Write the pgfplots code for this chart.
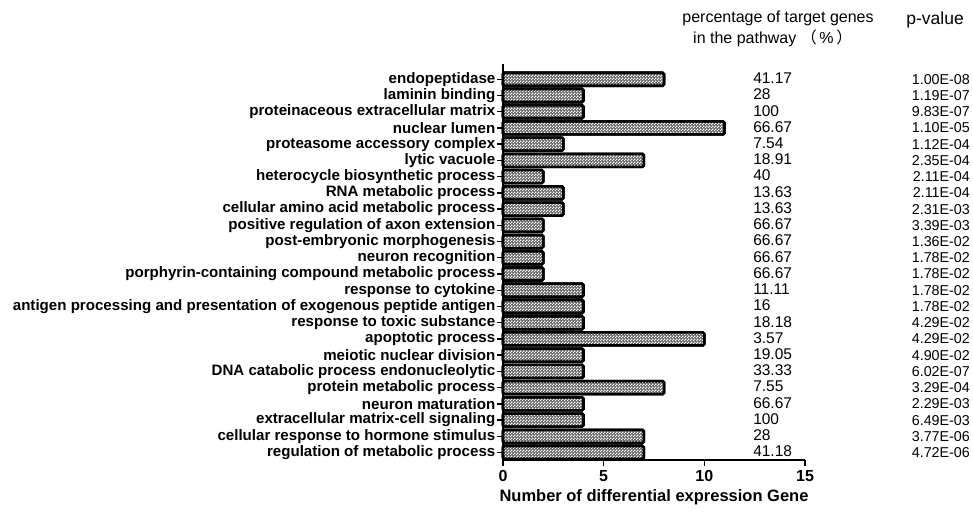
\documentclass[border=0pt]{standalone}
\usepackage{fontspec}
\setmainfont{Liberation Sans}
\newfontfamily\cjk{Noto Sans CJK SC}
\usepackage{pgfplots}
\usepackage{pgfplotstable}
\pgfplotsset{compat=1.18}
\usetikzlibrary{patterns}

\pgfdeclarepatternformonly{checker}{\pgfpointorigin}{\pgfpoint{3pt}{3pt}}{\pgfpoint{3pt}{3pt}}{%
  \pgfpathrectangle{\pgfpointorigin}{\pgfpoint{1.5pt}{1.5pt}}%
  \pgfpathrectangle{\pgfpoint{1.5pt}{1.5pt}}{\pgfpoint{1.5pt}{1.5pt}}%
  \pgfusepath{fill}%
}

\pgfplotstableread{
idx genes pct pval
1 8 41.17 1.00E-08
2 4 28 1.19E-07
3 4 100 9.83E-07
4 11 66.67 1.10E-05
5 3 7.54 1.12E-04
6 7 18.91 2.35E-04
7 2 40 2.11E-04
8 3 13.63 2.11E-04
9 3 13.63 2.31E-03
10 2 66.67 3.39E-03
11 2 66.67 1.36E-02
12 2 66.67 1.78E-02
13 2 66.67 1.78E-02
14 4 11.11 1.78E-02
15 4 16 1.78E-02
16 4 18.18 4.29E-02
17 10 3.57 4.29E-02
18 4 19.05 4.90E-02
19 4 33.33 6.02E-07
20 8 7.55 3.29E-04
21 4 66.67 2.29E-03
22 4 100 6.49E-03
23 7 28 3.77E-06
24 7 41.18 4.72E-06
}\datatable

\begin{document}
\begin{tikzpicture}
\path[use as bounding box] (0,0) rectangle (973pt,511pt);
\begin{axis}[
  at={(503pt,51pt)}, anchor=south west,
  scale only axis, width=302pt, height=396pt,
  clip=false,
  xmin=0, xmax=15,
  ymin=0.06, ymax=24.46,
  y dir=reverse,
  axis x line*=bottom, axis y line*=left,
  axis line style={line width=1.7pt, black},
  xtick={0,5,10,15},
  ytick={1,...,24},
  yticklabels={endopeptidase,laminin binding,proteinaceous extracellular matrix,nuclear lumen,proteasome accessory complex,lytic vacuole,heterocycle biosynthetic process,RNA metabolic process,cellular amino acid metabolic process,positive regulation of axon extension,post-embryonic morphogenesis,neuron recognition,porphyrin-containing compound metabolic process,response to cytokine,antigen processing and presentation of exogenous peptide antigen,response to toxic substance,apoptotic process,meiotic nuclear division,DNA catabolic process endonucleolytic,protein metabolic process,neuron maturation,extracellular matrix-cell signaling,cellular response to hormone stimulus,regulation of metabolic process},
  tick align=outside,
  major tick length=6pt,
  every tick/.style={black, line width=1.4pt},
  /pgf/number format/assume math mode=true,
  yticklabel style={font=\bfseries\fontsize{15.1}{15.1}\selectfont, inner sep=1.5pt},
  xticklabel style={font=\bfseries\fontsize{16}{16}\selectfont, yshift=-1pt},
  xlabel={Number of differential expression Gene},
  xlabel style={font=\bfseries\fontsize{16.5}{16.5}\selectfont, yshift=-1pt},
]
\addplot[xbar, bar width=13pt, draw=black, line width=2.6pt, rounded corners=1.5pt,
  fill=black!60, postaction={pattern=checker, pattern color=white}]
  table[x=genes, y=idx] {\datatable};
\addplot[draw=none, mark=none, nodes near coords={\pgfplotspointmeta},
  point meta=explicit symbolic,
  every node near coord/.style={anchor=west, inner sep=0pt, yshift=1pt, font=\fontsize{15.5}{15.5}\selectfont}]
  table[x expr=12.42, y=idx, meta=pct] {\datatable};
\addplot[draw=none, mark=none, nodes near coords={\pgfplotspointmeta},
  point meta=explicit symbolic,
  every node near coord/.style={anchor=east, inner sep=0pt, yshift=0pt, font=\fontsize{14.3}{14.3}\selectfont}]
  table[x expr=23.2, y=idx, meta=pval] {\datatable};
\node[font=\fontsize{16}{16}\selectfont, inner sep=0pt] at (axis cs:13.66,-2.77) {percentage of target genes};
\node[font=\fontsize{16}{16}\selectfont, inner sep=0pt] at (axis cs:13.4,-1.54) {in the pathway {\cjk （}\,\%\,{\cjk ）}};
\node[font=\fontsize{17.5}{17.5}\selectfont, inner sep=0pt] at (axis cs:21.46,-2.65) {p-value};
\end{axis}
\end{tikzpicture}
\end{document}
